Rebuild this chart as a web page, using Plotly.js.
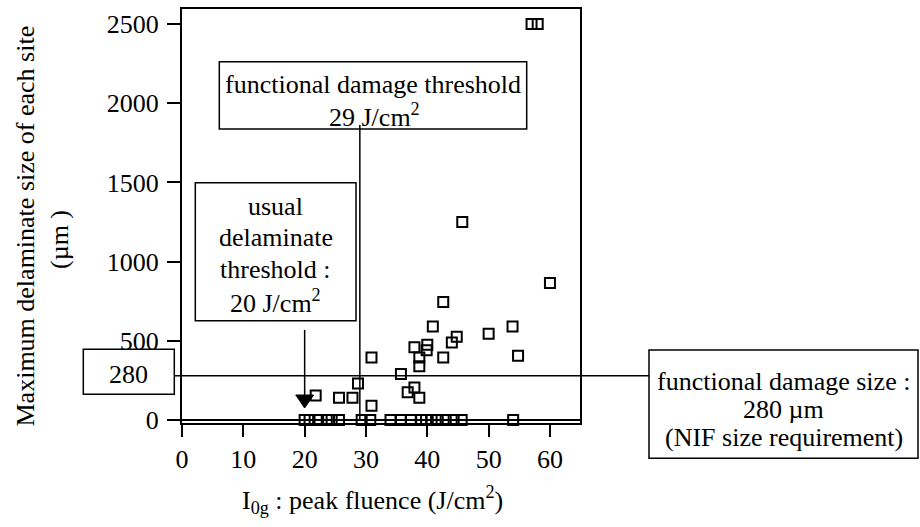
<!DOCTYPE html>
<html>
<head>
<meta charset="utf-8">
<script src="https://cdn.plot.ly/plotly-3.0.1.min.js"></script>
<style>
  html, body { margin: 0; padding: 0; background: #fff; }
  #chart { width: 920px; height: 527px; }
</style>
</head>
<body>
<div id="chart"></div>
<script>
// Sites that delaminated: peak fluence (J/cm2) and maximum delaminate size (µm)
const fluenceDamaged = [57.0, 58.0, 45.7, 60.0, 42.6, 40.9, 53.9, 50.0, 44.8, 44.0,
                        40.0, 37.9, 39.9, 38.7, 38.7, 42.6, 54.8, 30.9, 35.7, 28.7,
                        36.8, 37.9, 38.7, 21.8, 25.6, 27.8, 30.9];
const sizeDamaged    = [2500, 2500, 1250, 865, 745, 590, 590, 545, 525, 490,
                        475, 460, 440, 395, 340, 395, 405, 395, 290, 230,
                        175, 205, 140, 155, 140, 140, 90];

// Sites with no delamination
const fluenceIntact = [20.0, 20.8, 22.2, 23.6, 24.4, 25.6, 29.3, 30.7, 34.0, 35.7,
                       37.3, 39.0, 39.8, 40.7, 41.7, 43.0, 44.3, 45.6, 54.0];
const sizeIntact    = [0, 0, 0, 0, 0, 0, 0, 0, 0, 0,
                       0, 0, 0, 0, 0, 0, 0, 0, 0];

const xTicks = [0, 10, 20, 30, 40, 50, 60];
const yTicks = [0, 500, 1000, 1500, 2000, 2500];

// Reference levels
const usualThreshold = 20;       // J/cm2
const functionalThreshold = 29;  // J/cm2
const functionalSize = 280;      // µm

// ---- geometry helpers (page pixels -> paper fractions) ----
const FIG_W = 920, FIG_H = 527;
const MARGIN = { l: 182, r: 340, t: 9, b: 104 };
const PLOT_W = FIG_W - MARGIN.l - MARGIN.r;
const PLOT_H = FIG_H - MARGIN.t - MARGIN.b;
const px = v => (v - MARGIN.l) / PLOT_W;
const py = v => (FIG_H - MARGIN.b - v) / PLOT_H;

const FONT = 'Liberation Serif, Times New Roman, serif';
const FS = 26;
const baseFont = { family: FONT, size: FS, color: '#000', weight: 'normal' };

function textLine(text, cx, baseline, size) {
  const s = size || FS;
  return {
    text: text, xref: 'paper', yref: 'paper',
    x: px(cx), y: py(baseline - 0.34 * s),
    xanchor: 'center', yanchor: 'middle',
    showarrow: false, font: Object.assign({}, baseFont, { size: s })
  };
}

function box(x0, y0, x1, y1) {
  return {
    type: 'rect', xref: 'paper', yref: 'paper',
    x0: px(x0), x1: px(x1), y0: py(y0), y1: py(y1),
    line: { color: '#000', width: 1.5 }, fillcolor: 'rgba(0,0,0,0)'
  };
}

const markerStyle = {
  symbol: 'square-open', size: 10, color: '#000',
  line: { color: '#000', width: 2 }
};

const traces = [
  { x: fluenceIntact, y: sizeIntact, type: 'scatter', mode: 'markers',
    marker: markerStyle, cliponaxis: false, hoverinfo: 'x+y' },
  { x: fluenceDamaged, y: sizeDamaged, type: 'scatter', mode: 'markers',
    marker: markerStyle, cliponaxis: false, hoverinfo: 'x+y' }
];

const halfHead = 1.45; // arrowhead half width in fluence units

const shapes = [
  // framed notes
  box(219.3, 61.7, 526.7, 129),
  box(195.3, 182.7, 356, 320.7),
  box(83.3, 349.3, 174.3, 394.3),
  box(649, 350, 918, 458.3),
  // functional damage threshold marker line
  { type: 'line', xref: 'x', yref: 'paper',
    x0: functionalThreshold, x1: functionalThreshold, y0: py(420), y1: py(125),
    line: { color: '#000', width: 1.5 } },
  // functional damage size line, running between the two side notes
  { type: 'line', xref: 'paper', yref: 'y',
    x0: px(175), x1: px(649), y0: functionalSize, y1: functionalSize,
    line: { color: '#000', width: 1.5 } },
  // arrow towards the usual delaminate threshold
  { type: 'line', xref: 'x', yref: 'paper',
    x0: usualThreshold, x1: usualThreshold, y0: py(330), y1: py(398),
    line: { color: '#000', width: 1.5 } },
  { type: 'path', xref: 'x', yref: 'paper',
    path: 'M' + (usualThreshold - halfHead) + ',' + py(395) +
          ' L' + (usualThreshold + halfHead) + ',' + py(395) +
          ' L' + usualThreshold + ',' + py(408) + ' Z',
    fillcolor: '#000', line: { color: '#000', width: 1 } }
];

const annotations = [
  textLine('functional damage threshold', 373, 93),
  textLine(functionalThreshold + ' J/cm<sup>2</sup>', 374, 124),
  textLine('usual', 275.7, 215),
  textLine('delaminate', 275.7, 246.7),
  textLine('threshold :', 275.7, 278.3),
  textLine(usualThreshold + ' J/cm<sup>2</sup>', 275.7, 310),
  textLine(String(functionalSize), 128.8, 383.5),
  textLine('functional damage size :', 783.5, 390),
  textLine(functionalSize + ' µm', 783.5, 418.5),
  textLine('(NIF size requirement)', 783.5, 446.5),
  // axis titles
  { text: 'Maximum delaminate size of each site', xref: 'paper', yref: 'paper',
    x: px(25), y: py(226.5), xanchor: 'center', yanchor: 'middle', textangle: -90,
    showarrow: false, font: baseFont },
  { text: '(µm )', xref: 'paper', yref: 'paper',
    x: px(59), y: py(240), xanchor: 'center', yanchor: 'middle', textangle: -90,
    showarrow: false, font: baseFont },
  { text: 'I<sub>0g</sub> : peak fluence (J/cm<sup>2</sup>)', xref: 'paper', yref: 'paper',
    x: px(372.5), y: py(500), xanchor: 'center', yanchor: 'middle',
    showarrow: false, font: baseFont }
];

const layout = {
  width: FIG_W, height: FIG_H,
  margin: MARGIN,
  paper_bgcolor: '#fff', plot_bgcolor: '#fff',
  showlegend: false,
  font: baseFont,
  xaxis: {
    range: [0, 64.9], tickvals: xTicks, ticktext: xTicks.map(String),
    ticks: 'outside', ticklen: 12, tickwidth: 2, tickcolor: '#000',
    showline: true, linewidth: 2, linecolor: '#000', mirror: true,
    showgrid: false, zeroline: false,
    tickfont: baseFont, ticklabelstandoff: 0
  },
  yaxis: {
    range: [-19, 2595], tickvals: yTicks, ticktext: yTicks.map(String),
    ticks: 'outside', ticklen: 13, tickwidth: 2, tickcolor: '#000',
    showline: true, linewidth: 2, linecolor: '#000', mirror: true,
    showgrid: false, zeroline: true, zerolinewidth: 2, zerolinecolor: '#000',
    tickfont: baseFont, ticklabelstandoff: 3
  },
  shapes: shapes,
  annotations: annotations
};

Plotly.newPlot('chart', traces, layout, { displayModeBar: false, staticPlot: true });
</script>
</body>
</html>
